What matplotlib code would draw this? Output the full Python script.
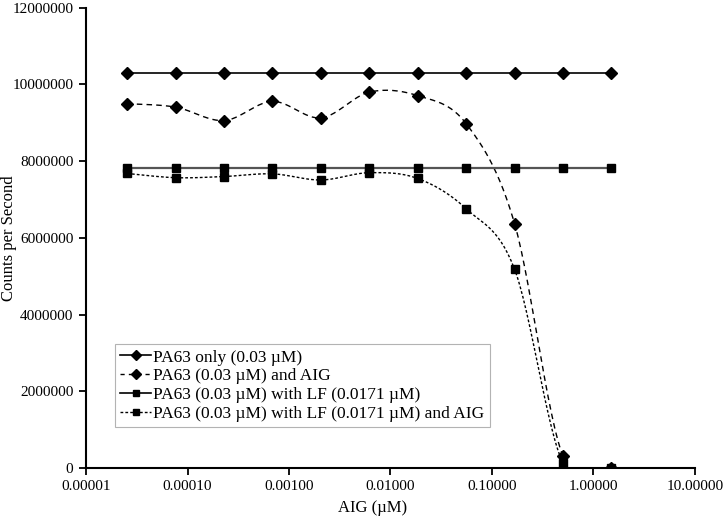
import matplotlib
matplotlib.use('Agg')
from matplotlib import pyplot as plt
from matplotlib.ticker import FixedLocator, FuncFormatter
from matplotlib.lines import Line2D
import numpy as np

plt.rcParams['font.family'] = ['Liberation Serif', 'DejaVu Serif']

# AIG concentrations (uM), 3-fold dilutions
aig = [0.0000254, 0.0000762, 0.000229, 0.000686, 0.00206, 0.00617,
       0.0185, 0.0556, 0.167, 0.5, 1.5]

pa63_only = [10290000] * 11
pa63_aig = [9500000, 9410000, 9060000, 9560000, 9130000, 9800000,
            9710000, 8980000, 6370000, 310000, 10000]
pa63_lf = [7830000] * 11
pa63_lf_aig = [7680000, 7570000, 7600000, 7670000, 7510000, 7700000,
               7550000, 6760000, 5180000, 130000, 10000]


def smooth(x, y, n=30):
    # Excel-like smoothed line: Catmull-Rom bezier in (log x, y)
    lx = np.log10(x)
    y = np.asarray(y, dtype=float)
    p = np.column_stack([lx, y])
    out = []
    for i in range(len(p) - 1):
        p0 = p[i - 1] if i > 0 else p[i]
        p1, p2 = p[i], p[i + 1]
        p3 = p[i + 2] if i + 2 < len(p) else p[i + 1]
        c1 = p1 + (p2 - p0) / 6.0
        c2 = p2 - (p3 - p1) / 6.0
        t = np.linspace(0, 1, n)[:, None]
        seg = ((1 - t) ** 3) * p1 + 3 * ((1 - t) ** 2) * t * c1 + 3 * (1 - t) * t ** 2 * c2 + t ** 3 * p2
        out.append(seg if i == 0 else seg[1:])
    out = np.vstack(out)
    return 10 ** out[:, 0], out[:, 1]


fig = plt.figure(figsize=(7.25, 5.21), dpi=100)
ax = fig.add_axes([86 / 725, 1 - 468 / 521, (695 - 86) / 725, (468 - 7.8) / 521])

ax.plot(aig, pa63_only, color='black', lw=1.2, marker='D', ms=6.5)
sx, sy = smooth(aig, pa63_aig)
ax.plot(sx, sy, color='black', lw=1.0, ls=(0, (4, 3)))
ax.plot(aig, pa63_aig, ls='none', color='black', marker='D', ms=6.5)
ax.plot(aig, pa63_lf, color='#555555', lw=1.6, marker='s', ms=6, mfc='black', mec='black')
sx, sy = smooth(aig, pa63_lf_aig)
ax.plot(sx, sy, color='black', lw=1.0, ls=(0, (2, 1.5)))
ax.plot(aig, pa63_lf_aig, ls='none', color='black', marker='s', ms=6)

# legend handles
handles = [
    Line2D([], [], color='black', lw=1.2, marker='D', ms=5),
    Line2D([], [], color='black', lw=1.0, ls=(0, (3, 3)), marker='D', ms=5),
    Line2D([], [], color='black', lw=1.2, marker='s', ms=4.5),
    Line2D([], [], color='black', lw=1.0, ls=(0, (2, 1.5)), marker='s', ms=4.5),
]
labels = ['PA63 only (0.03 \u00b5M)', 'PA63 (0.03 \u00b5M) and AIG',
          'PA63 (0.03 \u00b5M) with LF (0.0171 \u00b5M)',
          'PA63 (0.03 \u00b5M) with LF (0.0171 \u00b5M) and AIG']
leg = ax.legend(handles, labels, loc='lower left', bbox_to_anchor=((115 - 86) / 609, (468 - 427) / 460.2),
                fontsize=12.5, handlelength=1.8, handletextpad=0.1, labelspacing=0.15,
                borderpad=0.3, fancybox=False, frameon=True, borderaxespad=0)
leg.get_frame().set_edgecolor('#a0a0a0')
leg.get_frame().set_linewidth(0.8)

ax.set_xscale('log')
ax.set_xlim(0.00001, 10)
ax.set_ylim(0, 12000000)
ax.xaxis.set_major_locator(FixedLocator([1e-5, 1e-4, 1e-3, 1e-2, 1e-1, 1, 10]))
ax.xaxis.set_minor_locator(FixedLocator([]))
ax.xaxis.set_major_formatter(FuncFormatter(lambda v, p: '%.5f' % v))
ax.set_yticks(np.arange(0, 12000001, 2000000))
ax.yaxis.set_major_formatter(FuncFormatter(lambda v, p: '%d' % v))

for s in ['top', 'right']:
    ax.spines[s].set_visible(False)
for s in ['left', 'bottom']:
    ax.spines[s].set_linewidth(1.5)
ax.tick_params(direction='out', length=5, width=1.3, labelsize=11, pad=4)

ax.set_xlabel('AIG (\u00b5M)', fontsize=12)
ax.xaxis.set_label_coords((373 - 86) / 609, (468 - 508) / 460.2)
ax.xaxis.label.set_va('center')
ax.set_ylabel('Counts per Second', fontsize=12)
ax.yaxis.set_label_coords((9 - 86) / 609, 0.5)
ax.yaxis.label.set_va('center')

plt.savefig('out.png', dpi=100)
